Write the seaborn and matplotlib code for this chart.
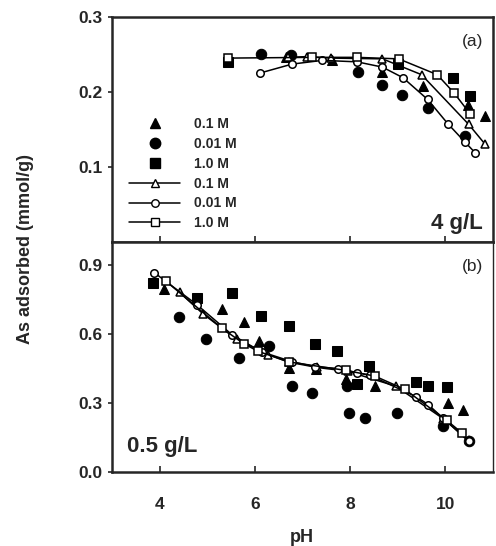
import numpy as np
import pandas as pd
import matplotlib
matplotlib.use("Agg")
import matplotlib.pyplot as plt
from matplotlib.lines import Line2D
import seaborn as sns

sns.set_style("ticks")
plt.rcParams["font.family"] = ["Liberation Sans", "DejaVu Sans"]
plt.rcParams["font.weight"] = "bold"

# ---- Panel (a): 4 g/L adsorbent ----
a_fill_01_ph = [6.66, 7.63, 8.67, 9.53, 10.47, 10.83]
a_fill_01_v = [0.247, 0.242, 0.227, 0.208, 0.183, 0.168]
a_fill_001_ph = [6.12, 6.76, 8.17, 8.68, 9.10, 9.63, 10.42]
a_fill_001_v = [0.250, 0.249, 0.226, 0.209, 0.196, 0.179, 0.142]
a_fill_10_ph = [5.44, 9.01, 10.17, 10.52]
a_fill_10_v = [0.240, 0.237, 0.218, 0.195]

a_line_01_ph = [6.70, 7.10, 7.60, 8.68, 9.50, 10.49, 10.83]
a_line_01_v = [0.246, 0.247, 0.245, 0.244, 0.223, 0.157, 0.131]
a_line_001_ph = [6.10, 6.78, 7.42, 8.15, 8.68, 9.11, 9.63, 10.05, 10.42, 10.63]
a_line_001_v = [0.225, 0.237, 0.242, 0.240, 0.233, 0.219, 0.190, 0.158, 0.133, 0.119]
a_line_10_ph = [5.44, 7.21, 8.14, 9.02, 9.83, 10.18, 10.52]
a_line_10_v = [0.245, 0.246, 0.246, 0.244, 0.223, 0.199, 0.171]

# ---- Panel (b): 0.5 g/L adsorbent ----
b_fill_01_ph = [4.10, 5.30, 5.77, 6.08, 6.72, 7.29, 7.91, 8.52, 10.05, 10.37]
b_fill_01_v = [0.795, 0.710, 0.654, 0.571, 0.453, 0.447, 0.403, 0.373, 0.300, 0.268]
b_fill_001_ph = [4.41, 4.97, 5.66, 6.29, 6.78, 7.21, 7.93, 7.98, 8.32, 8.99, 9.95, 10.49]
b_fill_001_v = [0.676, 0.578, 0.494, 0.549, 0.376, 0.344, 0.376, 0.256, 0.234, 0.256, 0.200, 0.132]
b_fill_10_ph = [3.86, 4.78, 5.53, 6.12, 6.71, 7.27, 7.72, 8.14, 8.40, 9.39, 9.64, 10.03]
b_fill_10_v = [0.825, 0.758, 0.780, 0.680, 0.635, 0.555, 0.527, 0.384, 0.461, 0.391, 0.376, 0.369]

b_line_01_ph = [4.42, 4.92, 5.62, 6.28, 6.71, 7.30, 7.95, 8.96, 9.95, 10.49]
b_line_01_v = [0.782, 0.687, 0.577, 0.511, 0.478, 0.455, 0.438, 0.373, 0.232, 0.138]
b_line_001_ph = [3.89, 4.78, 5.53, 6.14, 6.78, 7.27, 7.74, 8.15, 8.42, 9.39, 9.64, 9.95, 10.49]
b_line_001_v = [0.868, 0.729, 0.596, 0.523, 0.480, 0.458, 0.450, 0.432, 0.420, 0.327, 0.293, 0.234, 0.132]
b_line_10_ph = [4.14, 5.30, 5.77, 6.07, 6.71, 7.91, 8.52, 9.15, 10.03, 10.35]
b_line_10_v = [0.830, 0.627, 0.558, 0.525, 0.479, 0.442, 0.417, 0.359, 0.224, 0.169]

labels = ["0.1 M", "0.01 M", "1.0 M"]
markers = ["^", "o", "s"]
x_ticks = [4, 6, 8, 10]
a_yticks = [0.1, 0.2, 0.3]
b_yticks = [0.0, 0.3, 0.6, 0.9]

fig = plt.figure(figsize=(4.96, 5.46), dpi=100)
ax_a = fig.add_axes([0.2258, 0.5559, 0.7680, 0.4135])
ax_b = fig.add_axes([0.2258, 0.1361, 0.7680, 0.4198])

FILL_MS = 7.5
OPEN_MS = 5.4


def draw_panel(ax, fills, lines):
    for (ph, v), m in zip(fills, markers):
        sns.lineplot(x=ph, y=v, ax=ax, sort=False, estimator=None,
                     linestyle="none", marker=m, markersize=FILL_MS,
                     color="black", markeredgecolor="black",
                     markerfacecolor="black", zorder=3)
    for (ph, v), m in zip(lines, markers):
        sns.lineplot(x=ph, y=v, ax=ax, sort=False, estimator=None,
                     linewidth=1.1, marker=m, markersize=OPEN_MS,
                     color="black", markeredgecolor="black",
                     markerfacecolor="white", markeredgewidth=1.1, zorder=4)
    ax.set_xlim(3, 11)
    ax.set_xticks(x_ticks)
    for s in ax.spines.values():
        s.set_linewidth(1.8)
        s.set_visible(True)
    ax.tick_params(axis="x", direction="in", length=4, width=1.2)
    ax.tick_params(axis="y", direction="out", length=3, width=1.2,
                   labelsize=12, pad=4)
    ax.set_xlabel("")
    ax.set_ylabel("")


draw_panel(ax_a,
           [(a_fill_01_ph, a_fill_01_v), (a_fill_001_ph, a_fill_001_v), (a_fill_10_ph, a_fill_10_v)],
           [(a_line_01_ph, a_line_01_v), (a_line_001_ph, a_line_001_v), (a_line_10_ph, a_line_10_v)])
draw_panel(ax_b,
           [(b_fill_01_ph, b_fill_01_v), (b_fill_001_ph, b_fill_001_v), (b_fill_10_ph, b_fill_10_v)],
           [(b_line_01_ph, b_line_01_v), (b_line_001_ph, b_line_001_v), (b_line_10_ph, b_line_10_v)])

ax_a.set_ylim(0, 0.3)
ax_a.set_yticks(a_yticks)
ax_a.set_yticklabels([f"{v:.1f}" for v in a_yticks], fontweight="bold", fontsize=12.5)
ax_a.tick_params(axis="x", labelbottom=False)

ax_b.set_ylim(0, 1.0)
ax_b.set_yticks(b_yticks)
ax_b.set_yticklabels([f"{v:.1f}" for v in b_yticks], fontweight="bold", fontsize=12.5)
ax_b.set_xticklabels([str(t) for t in x_ticks], fontweight="bold", fontsize=12.5)
ax_b.tick_params(axis="x", pad=18)
ax_b.spines["right"].set_linewidth(1.0)

# legend: filled symbols first, then lines with open symbols
handles = []
for m in markers:
    handles.append(Line2D([], [], linestyle="none", marker=m, markersize=FILL_MS,
                          color="black", markerfacecolor="black"))
for m in markers:
    handles.append(Line2D([], [], linewidth=1.1, marker=m, markersize=OPEN_MS,
                          color="black", markerfacecolor="white"))
leg = ax_a.legend(handles, labels + labels, loc="upper left",
                  bbox_to_anchor=(0.03, 0.58), frameon=False,
                  prop={"weight": "bold", "size": 10},
                  handlelength=3.7, handletextpad=1.0, labelspacing=0.42,
                  borderaxespad=0.0)

ax_a.text(0.975, 0.89, "(a)", transform=ax_a.transAxes, ha="right", va="center",
          fontsize=12.5, fontweight="normal")
ax_b.text(0.975, 0.895, "(b)", transform=ax_b.transAxes, ha="right", va="center",
          fontsize=12.5, fontweight="normal")
ax_a.text(0.972, 0.06, "4 g/L", transform=ax_a.transAxes, ha="right",
          va="baseline", fontsize=16, fontweight="bold")
ax_b.text(0.04, 0.087, "0.5 g/L", transform=ax_b.transAxes, ha="left",
          va="baseline", fontsize=16, fontweight="bold")

fig.text(0.052, 0.544, "As adsorbed (mmol/g)", rotation=90, ha="center",
         va="center", fontsize=13, fontweight="bold")
fig.text(0.609, 0.015, "pH", ha="center", va="center", fontsize=13,
         fontweight="bold")

fig.savefig("out.png", dpi=100)
